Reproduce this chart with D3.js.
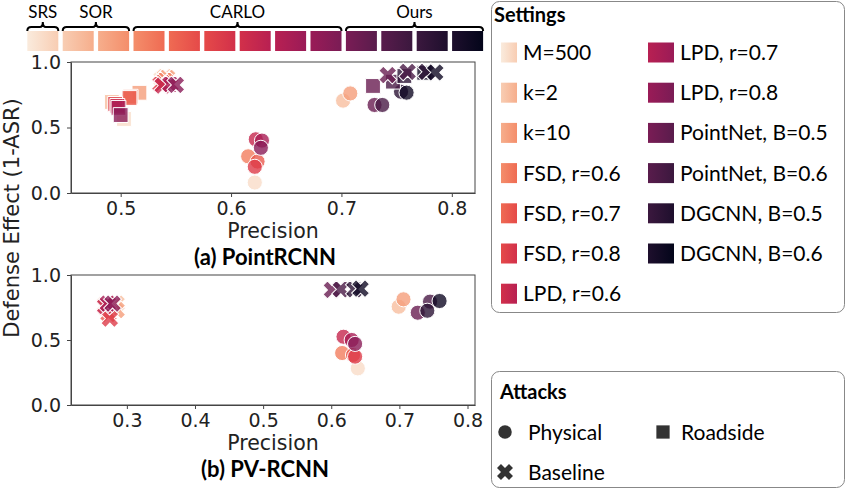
<!DOCTYPE html>
<html>
<head>
<meta charset="utf-8">
<script src="https://cdn.jsdelivr.net/npm/d3@7"></script>
<style>
  body { margin: 0; background: #fff; }
  svg { display: block; }
  .tick text { font-family: "DejaVu Sans", sans-serif; font-size: 19px; fill: #222; }
  .axis path, .axis line { stroke: #444; }
</style>
</head>
<body>
<svg id="chart" width="848" height="491"></svg>
<script>
// settings, in palette order
var settings = ["M=500", "k=2", "k=10", "FSD, r=0.6", "FSD, r=0.7", "FSD, r=0.8",
  "LPD, r=0.6", "LPD, r=0.7", "LPD, r=0.8", "PointNet, B=0.5", "PointNet, B=0.6",
  "DGCNN, B=0.5", "DGCNN, B=0.6"];
var groupNames = ["SRS", "SOR", "CARLO", "Ours"];
var groupSizes = [1, 2, 6, 4];
var attacks = ["Physical", "Roadside", "Baseline"];

// (a) PointRCNN, one value per setting
var aPhysicalX = [0.6215, 0.7015, 0.708, 0.6155, 0.624, 0.6215, 0.6224, 0.628, 0.627, 0.730, 0.737, 0.754, 0.759];
var aPhysicalY = [0.08, 0.705, 0.76, 0.28, 0.24, 0.20, 0.41, 0.40, 0.345, 0.672, 0.672, 0.773, 0.766];
var aRoadsideX = [0.503, 0.492, 0.517, 0.509, 0.508, 0.495, 0.497, 0.498, 0.500, 0.7286, 0.7467, 0.757, 0.775];
var aRoadsideY = [0.565, 0.695, 0.765, 0.735, 0.725, 0.68, 0.665, 0.65, 0.595, 0.817, 0.85, 0.893, 0.918];
var aBaselineX = [0.537, 0.540, 0.542, 0.540, 0.538, 0.536, 0.538, 0.545, 0.550, 0.742, 0.760, 0.777, 0.785];
var aBaselineY = [0.87, 0.885, 0.88, 0.86, 0.84, 0.83, 0.82, 0.83, 0.825, 0.90, 0.925, 0.925, 0.92];

// (b) PV-RCNN
var bPhysicalX = [0.639, 0.699, 0.706, 0.616, 0.632, 0.635, 0.618, 0.630, 0.635, 0.727, 0.745, 0.741, 0.759];
var bPhysicalY = [0.282, 0.756, 0.813, 0.40, 0.385, 0.372, 0.525, 0.50, 0.47, 0.71, 0.795, 0.725, 0.80];
var bBaselineX = [0.270, 0.285, 0.285, 0.268, 0.273, 0.275, 0.268, 0.272, 0.279, 0.601, 0.614, 0.634, 0.643];
var bBaselineY = [0.74, 0.78, 0.73, 0.77, 0.70, 0.665, 0.76, 0.78, 0.78, 0.885, 0.89, 0.89, 0.895];

var aTicks = [0.5, 0.6, 0.7, 0.8];
var bTicks = [0.3, 0.4, 0.5, 0.6, 0.7, 0.8];
var yTicks = [0.0, 0.5, 1.0];

// rocket_r colormap stops
var rocket = d3.interpolateRgbBasis(["#faebdd", "#f6b48f", "#f37651", "#e13342",
  "#ad1759", "#701f57", "#35193e", "#03051a"]);
var n = settings.length;
function colorAt(i) { return rocket((i + 0.5) / n); }

var svg = d3.select("#chart");
var defs = svg.append("defs");
settings.forEach(function(s, i) {
  var g = defs.append("linearGradient").attr("id", "grad" + i);
  g.append("stop").attr("offset", "0%").attr("stop-color", rocket(i / n));
  g.append("stop").attr("offset", "100%").attr("stop-color", rocket((i + 1) / n));
});

// ---- top colour bar with brackets
var bar = d3.scaleBand().domain(d3.range(n)).range([27.3, 483.1]).paddingInner(0.124);
svg.selectAll(".barsw").data(settings).enter().append("rect")
  .attr("x", function(d, i) { return bar(i); })
  .attr("y", 31).attr("width", bar.bandwidth()).attr("height", 20)
  .attr("fill", function(d, i) { return "url(#grad" + i + ")"; });

var start = 0;
groupNames.forEach(function(name, gi) {
  var x0 = bar(start), x1 = bar(start + groupSizes[gi] - 1) + bar.bandwidth();
  var xm = (x0 + x1) / 2;
  svg.append("path")
    .attr("d", "M" + x0 + ",31 Q" + x0 + ",27 " + (x0 + 4) + ",27 L" + (xm - 3) + ",27 Q" + xm + ",27 " + xm + ",22"
      + " Q" + xm + ",27 " + (xm + 3) + ",27 L" + (x1 - 4) + ",27 Q" + x1 + ",27 " + x1 + ",31")
    .attr("fill", "none").attr("stroke", "#000").attr("stroke-width", 2);
  svg.append("text").attr("x", xm).attr("y", 18).attr("text-anchor", "middle")
    .attr("font-family", "Lato, sans-serif").attr("font-size", 17).text(name);
  start += groupSizes[gi];
});

// ---- marker shapes
function shapePath(attack, k) {
  k = k || 1;
  if (attack === "Physical") return d3.symbol(d3.symbolCircle, 180 * k)();
  if (attack === "Roadside") return d3.symbol(d3.symbolSquare, 220 * k)();
  return d3.symbol(d3.symbolCross, 200 * k)();
}

function drawPanel(cfg) {
  var x = d3.scaleLinear().domain(cfg.xDomain).range([71, 475]);
  var y = d3.scaleLinear().domain([0, 1]).range([cfg.bottom, cfg.top]);
  var g = svg.append("g");

  g.append("g").attr("class", "axis")
    .attr("transform", "translate(0," + cfg.bottom + ")")
    .call(d3.axisBottom(x).tickValues(cfg.ticks).tickFormat(d3.format(".1f")).tickSize(4).tickPadding(5).tickSizeOuter(0));
  g.append("g").attr("class", "axis")
    .attr("transform", "translate(71,0)")
    .call(d3.axisLeft(y).tickValues(yTicks).tickFormat(d3.format(".1f")).tickSize(4).tickPadding(6).tickSizeOuter(0));
  g.append("rect").attr("x", 71).attr("y", cfg.top).attr("width", 404).attr("height", cfg.bottom - cfg.top)
    .attr("fill", "none").attr("stroke", "#444");

  cfg.series.forEach(function(sr) {
    g.selectAll(null).data(sr.xs).enter().append("path")
      .attr("d", shapePath(sr.attack))
      .attr("transform", function(d, i) {
        return "translate(" + x(d) + "," + y(sr.ys[i]) + ")" + (sr.attack === "Baseline" ? " rotate(45)" : "");
      })
      .attr("fill", function(d, i) { return colorAt(i); })
      .attr("fill-opacity", 0.8)
      .attr("stroke", "#fff").attr("stroke-width", 1);
  });

  g.append("text").attr("x", 273).attr("y", cfg.bottom + 45).attr("text-anchor", "middle")
    .attr("font-family", "DejaVu Sans, sans-serif").attr("font-size", 20.5).attr("fill", "#222").text("Precision");
  g.append("text").attr("x", 265).attr("y", cfg.bottom + 72).attr("text-anchor", "middle")
    .attr("font-family", "Lato, sans-serif").attr("font-weight", "bold").attr("font-size", 22).text(cfg.title);
}

drawPanel({ xDomain: [0.455, 0.821], ticks: aTicks, top: 62, bottom: 193, title: "(a) PointRCNN",
  series: [{ attack: "Physical", xs: aPhysicalX, ys: aPhysicalY },
           { attack: "Roadside", xs: aRoadsideX, ys: aRoadsideY },
           { attack: "Baseline", xs: aBaselineX, ys: aBaselineY }] });
drawPanel({ xDomain: [0.218, 0.811], ticks: bTicks, top: 275, bottom: 405, title: "(b) PV-RCNN",
  series: [{ attack: "Physical", xs: bPhysicalX, ys: bPhysicalY },
           { attack: "Baseline", xs: bBaselineX, ys: bBaselineY }] });

svg.append("text").attr("transform", "translate(19,218) rotate(-90)").attr("text-anchor", "middle")
  .attr("font-family", "DejaVu Sans, sans-serif").attr("font-size", 21).attr("fill", "#222")
  .text("Defense Effect (1-ASR)");

// ---- Settings legend
svg.append("rect").attr("x", 491.5).attr("y", 1.5).attr("width", 353).attr("height", 311)
  .attr("rx", 8).attr("fill", "#fff").attr("stroke", "#888");
svg.append("text").attr("x", 494).attr("y", 22).attr("font-family", "Lato, sans-serif")
  .attr("font-weight", "bold").attr("font-size", 20).text("Settings");
settings.forEach(function(s, i) {
  var col = i < 7 ? 0 : 1, row = i < 7 ? i : i - 7;
  var cy = 52.5 + row * 40.2;
  var sx = col ? 648 : 501, sw = col ? 26 : 16;
  svg.append("rect").attr("x", sx).attr("y", cy - 10).attr("width", sw).attr("height", 20)
    .attr("fill", "url(#grad" + i + ")");
  svg.append("text").attr("x", col ? 680 : 523).attr("y", cy + 7.5)
    .attr("font-family", "Lato, sans-serif").attr("font-size", 21).text(s);
});

// ---- Attacks legend
svg.append("rect").attr("x", 491.5).attr("y", 371.5).attr("width", 353).attr("height", 116)
  .attr("rx", 8).attr("fill", "#fff").attr("stroke", "#888");
svg.append("text").attr("x", 500).attr("y", 399).attr("font-family", "Lato, sans-serif")
  .attr("font-weight", "bold").attr("font-size", 20).text("Attacks");
var attackPos = [[505, 432, 528], [663, 432, 681], [505, 472, 528]];
attacks.forEach(function(a, i) {
  var p = attackPos[i];
  svg.append("path").attr("d", shapePath(a, 0.8))
    .attr("transform", "translate(" + p[0] + "," + p[1] + ")" + (a === "Baseline" ? " rotate(45)" : ""))
    .attr("fill", "#333");
  svg.append("text").attr("x", p[2]).attr("y", p[1] + 7.5)
    .attr("font-family", "Lato, sans-serif").attr("font-size", 21).text(a);
});
</script>
</body>
</html>
